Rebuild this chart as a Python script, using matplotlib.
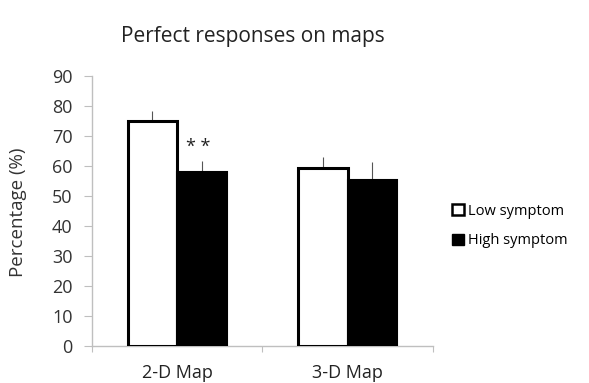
import matplotlib
matplotlib.use("Agg")
import matplotlib.pyplot as plt
import numpy as np
from matplotlib.patches import Patch

categories = ["2-D Map", "3-D Map"]
series = ["Low symptom", "High symptom"]
low_vals = [75.0, 59.3]
high_vals = [58.0, 55.2]
low_err = [3.3, 3.7]
high_err = [3.7, 6.0]
yticks = [0, 10, 20, 30, 40, 50, 60, 70, 80, 90]

plt.rcParams['font.family'] = ['Open Sans', 'DejaVu Sans']

fig = plt.figure(figsize=(5.89, 3.83), dpi=100)
ax = fig.add_axes([0.156, 0.0974, 0.579, 0.705])

x = np.arange(len(categories))
w = 0.29
ax.bar(x - w/2, low_vals, w, color='white', edgecolor='black', linewidth=2.2, zorder=3)
ax.bar(x + w/2, high_vals, w, color='black', edgecolor='black', linewidth=1.5, zorder=3)
ax.errorbar(x - w/2, low_vals, yerr=[np.zeros(2), low_err], fmt='none', ecolor='#555555',
            elinewidth=0.8, capsize=0, zorder=2)
ax.errorbar(x + w/2, high_vals, yerr=[np.zeros(2), high_err], fmt='none', ecolor='#555555',
            elinewidth=0.8, capsize=0, zorder=2)
ax.text(x[0] + w/2 - 0.02, high_vals[0] + high_err[0] + 1.5, "* *", ha='center', va='bottom',
        fontsize=13, color='#222222')

ax.set_xlim(-0.5, 1.5)
ax.set_ylim(0, 90)
ax.set_yticks(yticks)
ax.set_yticklabels([str(t) for t in yticks], fontsize=13, color='#333333')
ax.set_xticks([-0.5, 0.5, 1.5])
ax.set_xticklabels([])
ax.set_xticks(x, minor=True)
ax.set_xticklabels(categories, minor=True, fontsize=13, color='#222222')
ax.tick_params(axis='x', which='minor', length=0, pad=13)
ax.tick_params(axis='x', which='major', length=4, direction='out', color='#bfbfbf')
ax.tick_params(axis='y', length=6, direction='out', color='#bfbfbf', pad=8)
for s in ['top', 'right']:
    ax.spines[s].set_visible(False)
for s in ['left', 'bottom']:
    ax.spines[s].set_color('#bfbfbf')
    ax.spines[s].set_linewidth(1.0)
ax.set_ylabel("Percentage (%)", fontsize=13.5, color='#333333')
ax.yaxis.set_label_coords(-0.19, 0.495)

fig.text(0.43, 0.905, "Perfect responses on maps", ha='center', va='center', fontsize=15, color='#222222')

handles = [Patch(facecolor='white', edgecolor='black', linewidth=1.8, label=series[0]),
           Patch(facecolor='black', edgecolor='black', label=series[1])]
fig.legend(handles=handles, loc='center left', bbox_to_anchor=(0.745, 0.41), frameon=False,
           fontsize=10.5, handlelength=0.8, handleheight=0.8, handletextpad=0.3, labelspacing=1.0)

fig.savefig("out.png", dpi=100)
